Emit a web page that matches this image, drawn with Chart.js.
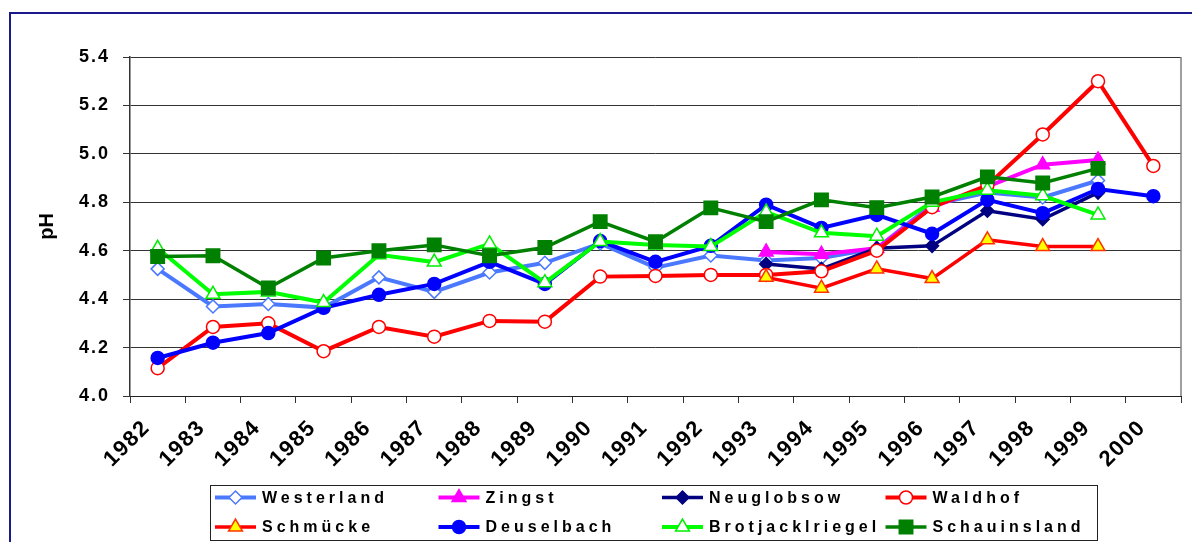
<!DOCTYPE html>
<html>
<head>
<meta charset="utf-8">
<script src="https://cdn.jsdelivr.net/npm/chart.js@4.4.1/dist/chart.umd.min.js"></script>
<style>
  html, body { margin: 0; padding: 0; background: #fff; }
  #wrap { position: relative; width: 1192px; height: 542px; overflow: hidden; }
  #frame { position: absolute; left: 9px; top: 12px; width: 1300px; height: 700px;
           border-left: 2px solid #1a1a8c; border-top: 2px solid #1a1a8c; box-sizing: border-box; }
  canvas { position: absolute; left: 0; top: 0; }
</style>
</head>
<body>
<div id="wrap">
  <div id="frame"></div>
  <canvas id="c" width="1192" height="542"></canvas>
</div>
<script>
const years = ['1982','1983','1984','1985','1986','1987','1988','1989','1990','1991','1992','1993','1994','1995','1996','1997','1998','1999','2000'];
const yTicks = [4.0, 4.2, 4.4, 4.6, 4.8, 5.0, 5.2, 5.4];

const westerland     = [4.525, 4.37, 4.38, 4.365, 4.49, 4.43, 4.51, 4.55, 4.63, 4.53, 4.58, 4.56, 4.57, 4.61, 4.79, 4.84, 4.82, 4.89, null];
const zingst         = [null, null, null, null, null, null, null, null, null, null, null, 4.595, 4.585, 4.61, 4.78, 4.865, 4.955, 4.975, null];
const neuglobsow     = [null, null, null, null, null, null, null, null, null, null, null, 4.545, 4.525, 4.61, 4.62, 4.765, 4.73, 4.84, null];
const waldhof        = [4.115, 4.285, 4.30, 4.185, 4.285, 4.245, 4.31, 4.307, 4.493, 4.496, 4.50, 4.50, 4.515, 4.60, 4.78, 4.87, 5.08, 5.30, 4.95];
const schmuecke      = [null, null, null, null, null, null, null, null, null, null, null, 4.49, 4.445, 4.525, 4.485, 4.645, 4.617, 4.617, null];
const deuselbach     = [4.157, 4.22, 4.26, 4.364, 4.418, 4.463, 4.554, 4.463, 4.64, 4.554, 4.62, 4.79, 4.694, 4.748, 4.67, 4.81, 4.755, 4.855, 4.825];
const brotjacklriegel= [4.61, 4.42, 4.43, 4.386, 4.583, 4.553, 4.628, 4.468, 4.638, 4.624, 4.617, 4.76, 4.674, 4.66, 4.80, 4.85, 4.827, 4.748, null];
const schauinsland   = [4.576, 4.579, 4.446, 4.57, 4.60, 4.624, 4.579, 4.613, 4.72, 4.637, 4.777, 4.72, 4.81, 4.778, 4.822, 4.905, 4.88, 4.94, null];

const FONT = "'Liberation Sans', Arial, Helvetica, sans-serif";

function ds(label, data, color, style, fill, border, radius, order, lw) {
  return {
    label, data, borderColor: color, backgroundColor: color,
    borderWidth: lw, pointStyle: style, pointRadius: radius, pointHoverRadius: radius,
    pointBackgroundColor: fill, pointBorderColor: border, pointBorderWidth: 1.5,
    tension: 0, spanGaps: false, order
  };
}

const datasets = [
  ds('Westerland', westerland, '#4a78ff', 'rectRot', '#ffffff', '#4a78ff', 6.5, 8, 4),
  ds('Zingst', zingst, '#ff00ff', 'triangle', '#ff00ff', '#ff00ff', 8, 7, 4),
  ds('Neuglobsow', neuglobsow, '#000080', 'rectRot', '#000080', '#000080', 6.5, 6, 3.5),
  ds('Waldhof', waldhof, '#ff0000', 'circle', '#ffffff', '#ff0000', 6.5, 5, 4),
  ds('Schmücke', schmuecke, '#ff0000', 'triangle', '#ffff00', '#ff3300', 8, 4, 3.5),
  ds('Deuselbach', deuselbach, '#0000ff', 'circle', '#0000ff', '#0000ff', 6.5, 3, 4),
  ds('Brotjacklriegel', brotjacklriegel, '#00ff00', 'triangle', '#ffffff', '#00ee00', 8, 2, 4),
  ds('Schauinsland', schauinsland, '#008000', 'rect', '#008000', '#008000', 9.5, 1, 3.5)
];

function wrapLabels(scale, spacing) {
  if (scale.__wrapped) return;
  const orig = scale.drawLabels.bind(scale);
  scale.drawLabels = function (ca) {
    const ctx = scale.ctx;
    ctx.save();
    ctx.letterSpacing = spacing;
    orig(ca);
    ctx.restore();
  };
  scale.__wrapped = true;
}

const decor = {
  id: 'decor',
  afterLayout(chart) {
    wrapLabels(chart.scales.y, '2px');
    wrapLabels(chart.scales.x, '1.5px');
  },
  beforeDatasetsDraw(chart) {
    const {ctx, chartArea: a} = chart;
    ctx.save();
    ctx.strokeStyle = '#808080';
    ctx.lineWidth = 1.5;
    ctx.beginPath();
    ctx.moveTo(a.right, a.top);
    ctx.lineTo(a.right, a.bottom);
    ctx.stroke();
    ctx.restore();
  },
  afterDraw(chart) {
    const ctx = chart.ctx;
    const L = 210, T = 485, R = 1097, B = 540;
    ctx.save();
    ctx.fillStyle = '#ffffff';
    ctx.fillRect(L, T, R - L, B - T);
    ctx.strokeStyle = '#222';
    ctx.lineWidth = 1;
    ctx.strokeRect(L + 0.5, T + 0.5, R - L, B - T);
    const colW = 223.5, rowY = [T + 12.5, T + 42];
    chart.data.datasets.forEach((d, i) => {
      const col = i % 4, row = Math.floor(i / 4);
      const x0 = L + 5 + col * colW, y = rowY[row];
      ctx.strokeStyle = d.borderColor;
      ctx.lineWidth = d.borderWidth;
      ctx.beginPath();
      ctx.moveTo(x0, y);
      ctx.lineTo(x0 + 41, y);
      ctx.stroke();
      ctx.fillStyle = d.pointBackgroundColor;
      ctx.strokeStyle = d.pointBorderColor;
      ctx.lineWidth = d.pointBorderWidth;
      Chart.helpers.drawPoint(ctx, {pointStyle: d.pointStyle, radius: d.pointRadius, borderWidth: d.pointBorderWidth, rotation: 0}, x0 + 20.5, y);
      ctx.fillStyle = '#000';
      ctx.font = 'bold 16px ' + FONT;
      ctx.letterSpacing = '4px';
      ctx.textBaseline = 'middle';
      ctx.textAlign = 'left';
      ctx.fillText(d.label, x0 + 47, y + 1);
      ctx.letterSpacing = '0px';
    });
    ctx.restore();
  }
};

new Chart(document.getElementById('c'), {
  type: 'line',
  data: { labels: years, datasets },
  plugins: [decor],
  options: {
    responsive: false,
    animation: false,
    events: [],
    layout: { padding: { left: 0, right: 3, top: 57, bottom: 66 } },
    plugins: { legend: { display: false }, tooltip: { enabled: false } },
    scales: {
      x: {
        type: 'category',
        offset: true,
        grid: { offset: true, drawOnChartArea: false, drawTicks: true, tickLength: 7, color: '#333', lineWidth: 1 },
        border: { color: '#222', width: 1 },
        ticks: {
          autoSkip: false, minRotation: 45, maxRotation: 45, padding: 12, labelOffset: -11,
          color: '#000', font: { family: FONT, size: 22, weight: 'bold' }
        },
        afterFit(s) { s.height = 80; }
      },
      y: {
        min: yTicks[0], max: yTicks[yTicks.length - 1],
        afterBuildTicks(s) { s.ticks = yTicks.map(v => ({ value: v })); },
        grid: { color: '#333', lineWidth: 1, tickLength: 7 },
        border: { color: '#333', width: 1.5 },
        ticks: {
          padding: 13, color: '#000',
          font: { family: FONT, size: 18, weight: 'bold' },
          callback: v => Number(v).toFixed(1)
        },
        title: {
          display: true, text: 'pH', color: '#000',
          font: { family: FONT, size: 20, weight: 'bold' },
          padding: { top: 35, bottom: 0 }
        },
        afterFit(s) { s.width = 130; }
      }
    }
  }
});
</script>
</body>
</html>
